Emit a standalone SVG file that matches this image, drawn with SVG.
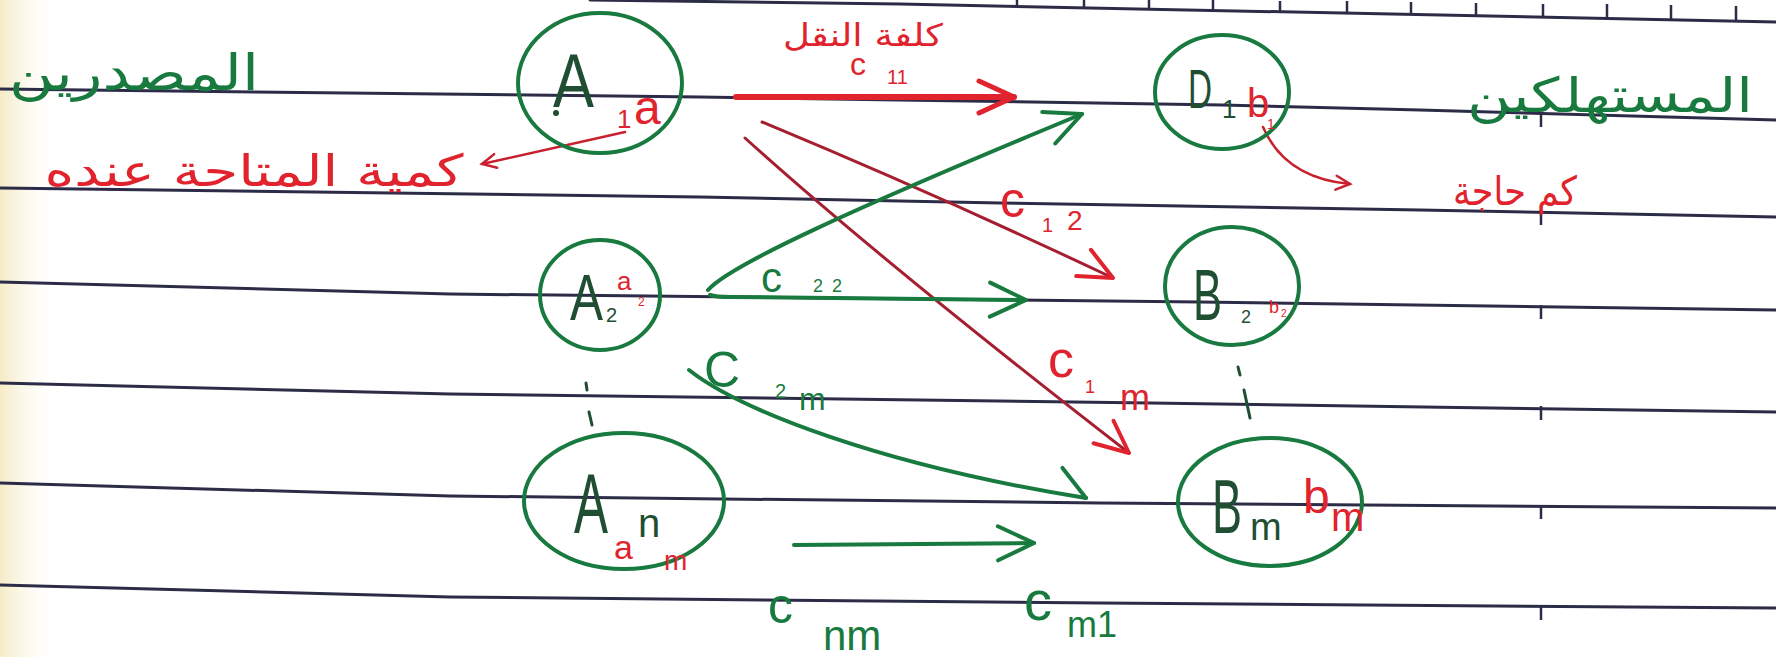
<svg xmlns="http://www.w3.org/2000/svg" width="1776" height="657" viewBox="0 0 1776 657">
<style>
.rule{fill:none;stroke:#2c2c48;stroke-width:3;stroke-linecap:round}
.tick{fill:none;stroke:#2c2c48;stroke-width:2.5}
.node{fill:none;stroke:#187a3e;stroke-width:4}
.gl{fill:none;stroke:#187a3e;stroke-width:4;stroke-linecap:round}
.rl{fill:none;stroke:#e0232d;stroke-width:6;stroke-linecap:round}
.dl{fill:none;stroke:#a51f30;stroke-width:3;stroke-linecap:round}
.sl{fill:none;stroke:#c8202e;stroke-width:2.5;stroke-linecap:round}
.dot{fill:none;stroke:#1f4e33;stroke-width:3;stroke-linecap:round}
.lat{font-family:"Liberation Sans","DejaVu Sans",sans-serif}
.ar{font-family:"DejaVu Sans","Noto Sans",sans-serif}
.g{fill:#187a3e}
.k{fill:#1f4e33}
.r{fill:#e0232d}
</style>
<defs>
<linearGradient id="edge" x1="0" y1="0" x2="1" y2="0">
<stop offset="0" stop-color="#f3e6b8" stop-opacity="0.8"/>
<stop offset="1" stop-color="#ffffff" stop-opacity="0"/>
</linearGradient>
<marker id="mg" markerUnits="userSpaceOnUse" viewBox="-2 -2 44 40" refX="38" refY="18" markerWidth="44" markerHeight="40" orient="auto">
<path d="M2,1 L38,18 L2,35" fill="none" stroke="#187a3e" stroke-width="4" stroke-linecap="round" stroke-linejoin="round"/>
</marker>
<marker id="mgh" markerUnits="userSpaceOnUse" viewBox="-2 -2 44 40" refX="38" refY="30" markerWidth="44" markerHeight="40" orient="auto">
<path d="M10,4 L38,30" fill="none" stroke="#187a3e" stroke-width="4" stroke-linecap="round"/>
</marker>
<marker id="mr" markerUnits="userSpaceOnUse" viewBox="-2 -2 44 40" refX="38" refY="18" markerWidth="44" markerHeight="40" orient="auto">
<path d="M3,2 L38,18 L3,34" fill="none" stroke="#e0232d" stroke-width="5" stroke-linecap="round" stroke-linejoin="round"/>
</marker>
<marker id="md" markerUnits="userSpaceOnUse" viewBox="-2 -2 44 40" refX="38" refY="18" markerWidth="44" markerHeight="40" orient="auto">
<path d="M6,2 L38,18 L4,32" fill="none" stroke="#e0232d" stroke-width="4" stroke-linecap="round" stroke-linejoin="round"/>
</marker>
<marker id="ms" markerUnits="userSpaceOnUse" viewBox="-2 -2 24 24" refX="18" refY="10" markerWidth="24" markerHeight="24" orient="auto">
<path d="M4,3 L18,10 L4,17" fill="none" stroke="#c8202e" stroke-width="2.5" stroke-linecap="round"/>
</marker>
</defs>
<rect width="1776" height="657" fill="#ffffff"/>
<rect width="60" height="657" fill="url(#edge)"/>
<g id="paper">
<path class="rule" d="M590,0 L900,4 L1776,22"/>
<path class="tick" d="M1017,7 v-9 M1084,9 v-10 M1149,10 v-10 M1213,11 v-11 M1280,13 v-12 M1347,14 v-13 M1411,15 v-13 M1476,17 v-14 M1543,18 v-14 M1607,19 v-15 M1671,20 v-15 M1736,21 v-15"/>
<path class="rule" d="M0,89 L700,97 L1222,105 L1420,110 L1776,120"/>
<path class="rule" d="M0,188 L700,197 L1000,203 L1420,210 L1776,217"/>
<path class="rule" d="M0,282 L450,294 L1200,302 L1776,310"/>
<path class="rule" d="M0,383 L450,394 L1150,403 L1776,412"/>
<path class="rule" d="M0,483 L450,496 L1100,503 L1776,508"/>
<path class="rule" d="M0,585 L450,597 L1100,603 L1776,608"/>
<path class="tick" d="M1541,113 v14 M1541,211 v14 M1541,305 v14 M1541,406 v14 M1541,505 v14 M1541,606 v14"/>
</g>
<g id="labels">
<text class="ar g" x="134" y="90" font-size="50" text-anchor="middle" textLength="250" lengthAdjust="spacingAndGlyphs">المصدرين</text>
<text class="ar r" x="254" y="186" font-size="44" text-anchor="middle" textLength="419" lengthAdjust="spacingAndGlyphs">كمية المتاحة عنده</text>
<text class="ar g" x="1610" y="112" font-size="48" text-anchor="middle" textLength="286" lengthAdjust="spacingAndGlyphs">المستهلكين</text>
<text class="ar r" x="1515" y="205" font-size="40" text-anchor="middle" textLength="124" lengthAdjust="spacingAndGlyphs">كم حاجة</text>
</g>
<g id="connectors">
<path id="e-a1-b1" class="rl" d="M736,97 L1014,97" marker-end="url(#mr)"/>
<path id="e-a1-b2" class="dl" d="M762,122 Q 940,196 1113,278" marker-end="url(#md)"/>
<path id="e-a1-bm" class="dl" d="M745,138 Q 880,260 1129,453" marker-end="url(#md)"/>
<path id="e-a2-b1" class="gl" d="M708,290 C 730,265 850,210 1082,114" marker-end="url(#mg)"/>
<path id="e-a2-b2" class="gl" d="M710,295 Q 716,297 730,297 L1026,300" marker-end="url(#mg)"/>
<path id="e-a2-bm" class="gl" d="M689,370 C 740,410 880,465 1086,498" marker-end="url(#mgh)"/>
<path id="e-an" class="gl" d="M794,545 L1034,543" marker-end="url(#mg)"/>
<path id="e-a1-supply" class="sl" d="M625,132 L482,164" marker-end="url(#ms)"/>
<path id="e-b1-demand" class="sl" d="M1263,127 Q 1285,178 1350,184" marker-end="url(#ms)"/>
<text class="ar r" x="863" y="46" font-size="31" text-anchor="middle" textLength="160" lengthAdjust="spacingAndGlyphs">كلفة النقل</text>
<text class="lat r" font-size="32"><tspan x="850" y="75">c</tspan><tspan x="887" y="84" font-size="20">11</tspan></text>
<text class="lat r" font-size="50"><tspan x="1000" y="217">c</tspan><tspan x="1042" y="232" font-size="20">1</tspan><tspan x="1067" y="230" font-size="28">2</tspan></text>
<text class="lat g" font-size="42"><tspan x="761" y="292">c</tspan><tspan x="813" y="292" font-size="18" letter-spacing="9">22</tspan></text>
<text class="lat g" font-size="50"><tspan x="704" y="387">C</tspan><tspan x="775" y="398" font-size="20">2</tspan><tspan x="799" y="410" font-size="32">m</tspan></text>
<text class="lat r" font-size="52"><tspan x="1048" y="377">c</tspan><tspan x="1085" y="393" font-size="18">1</tspan><tspan x="1120" y="410" font-size="36">m</tspan></text>
<text class="lat g" font-size="50"><tspan x="768" y="623">c</tspan><tspan x="823" y="650" font-size="42">nm</tspan></text>
<text class="lat g" font-size="56"><tspan x="1024" y="620">c</tspan><tspan x="1067" y="637" font-size="36">m1</tspan></text>
</g>
<g id="node-A1">
<ellipse class="node" cx="600" cy="83" rx="82" ry="70"/>
<circle class="k" cx="556" cy="113" r="3"/>
<text class="lat k" font-size="76"><tspan x="553" y="107" textLength="41" lengthAdjust="spacingAndGlyphs">A</tspan><tspan class="r" x="617" y="128" font-size="26">1</tspan><tspan class="r" x="634" y="124" font-size="48">a</tspan></text>
</g>
<g id="node-A2">
<ellipse class="node" cx="600" cy="295" rx="60" ry="55"/>
<text class="lat k" font-size="64"><tspan x="570" y="320" textLength="33" lengthAdjust="spacingAndGlyphs">A</tspan><tspan x="606" y="322" font-size="20">2</tspan><tspan class="r" x="617" y="290" font-size="26">a</tspan><tspan class="r" x="638" y="306" font-size="12">2</tspan></text>
</g>
<g id="dots-A">
<path class="dot" d="M586,383 L587,390 M589,412 L592,425"/>
</g>
<g id="node-An">
<ellipse class="node" cx="624" cy="501" rx="100" ry="68"/>
<text class="lat k" font-size="86"><tspan x="574" y="533" textLength="34" lengthAdjust="spacingAndGlyphs">A</tspan><tspan x="638" y="537" font-size="40">n</tspan><tspan class="r" x="614" y="559" font-size="34">a</tspan><tspan class="r" x="664" y="570" font-size="28">m</tspan></text>
</g>
<g id="node-B1">
<ellipse class="node" cx="1222" cy="92" rx="67" ry="57"/>
<text class="lat k" font-size="55"><tspan x="1188" y="108" textLength="24" lengthAdjust="spacingAndGlyphs">D</tspan><tspan x="1222" y="118" font-size="26">1</tspan><tspan class="r" x="1247" y="117" font-size="40">b</tspan><tspan class="r" x="1267" y="129" font-size="14">1</tspan></text>
</g>
<g id="node-B2">
<ellipse class="node" cx="1232" cy="286" rx="67" ry="59"/>
<text class="lat k" font-size="72"><tspan x="1193" y="320" textLength="29" lengthAdjust="spacingAndGlyphs">B</tspan><tspan x="1241" y="323" font-size="18">2</tspan><tspan class="r" x="1269" y="313" font-size="18">b</tspan><tspan class="r" x="1281" y="317" font-size="10">2</tspan></text>
</g>
<g id="dots-B">
<path class="dot" d="M1238,367 L1240,375 M1244,390 L1250,418"/>
</g>
<g id="node-Bm">
<ellipse class="node" cx="1270" cy="502" rx="92" ry="64"/>
<text class="lat k" font-size="76"><tspan x="1212" y="533" textLength="30" lengthAdjust="spacingAndGlyphs">B</tspan><tspan x="1250" y="540" font-size="38">m</tspan><tspan class="r" x="1303" y="513" font-size="48">b</tspan><tspan class="r" x="1331" y="531" font-size="40">m</tspan></text>
</g>
</svg>
